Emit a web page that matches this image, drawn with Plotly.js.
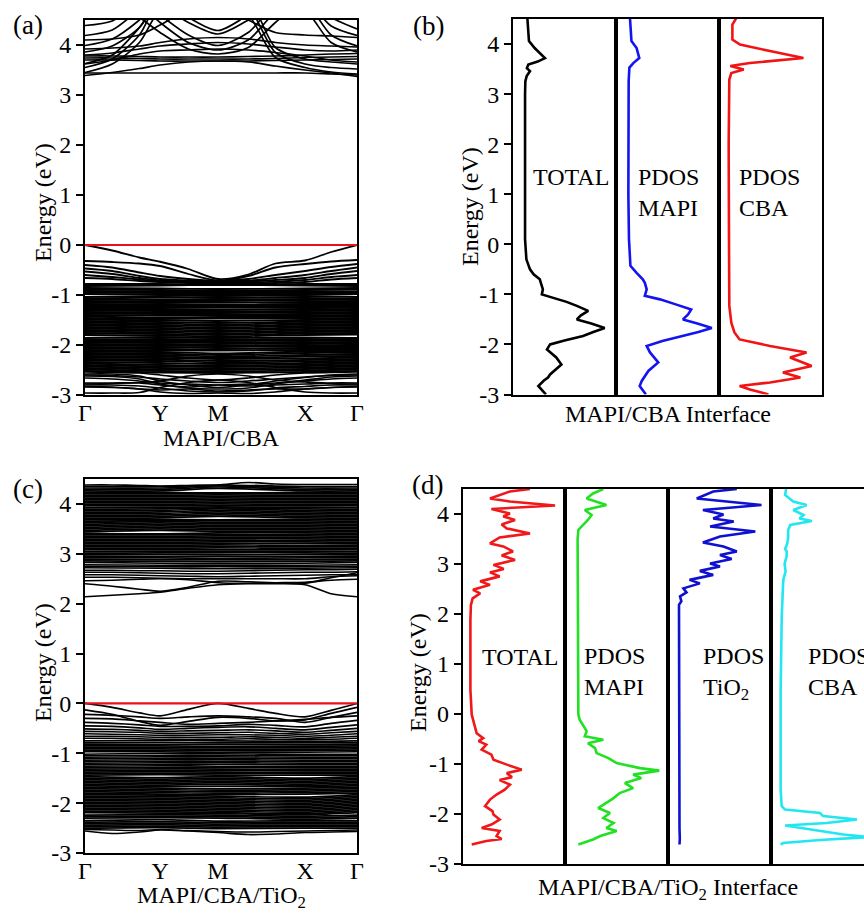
<!DOCTYPE html>
<html>
<head>
<meta charset="utf-8">
<script src="https://cdn.plot.ly/plotly-3.0.1.min.js"></script>
<style>
html,body{margin:0;padding:0;overflow:hidden;background:#fff;}
#chart{width:880px;height:913px;}
</style>
</head>
<body>
<div id="chart"></div>
<script>
// ---------- k-path ----------
const kLabels = ['Γ','Y','M','X','Γ'];
const kSym = [0, 0.276, 0.489, 0.809, 1];
const kFine = [0, 0.1, 0.2, 0.276, 0.38, 0.489, 0.6, 0.7, 0.809, 0.905, 1];
const energyTicks = [-3,-2,-1,0,1,2,3,4];
const energyTickText = ['-3','-2','-1','0','1','2','3','4'];
const fermiLevel = 0;

// ---------- (a) MAPI/CBA bands ----------
const cbA = [
[3.44,3.44,3.44,3.44,3.44,3.44,3.44,3.44,3.44,3.42,3.40],
[3.39,3.45,3.53,3.60,3.66,3.68,3.66,3.58,3.50,3.44,3.37],
[3.45,3.62,4.05,4.70,4.90,4.90,4.60,3.75,3.55,3.46,3.42],
[3.55,3.72,4.20,4.90,4.90,4.90,4.75,3.85,3.62,3.55,3.52],
[3.63,3.80,4.35,4.90,4.90,4.90,4.90,3.95,3.72,3.66,3.62],
[4.90,4.90,4.90,4.90,4.55,4.29,4.60,4.90,4.90,4.90,4.90],
[4.90,4.90,4.90,4.80,4.45,4.22,4.50,4.90,4.90,4.90,4.90],
[4.90,4.90,4.90,4.60,4.20,3.99,4.25,4.80,4.90,4.90,4.90],
[4.90,4.90,4.80,4.45,4.05,3.90,4.10,4.65,4.90,4.90,4.90],
[4.90,4.85,4.55,4.25,3.92,3.82,3.95,4.45,4.90,4.90,4.90],
[3.70,3.70,3.69,3.68,3.68,3.68,3.68,3.69,3.70,3.71,3.72],
[3.74,3.74,3.73,3.72,3.72,3.72,3.72,3.73,3.75,3.76,3.77],
[3.78,3.78,3.77,3.76,3.76,3.76,3.77,3.78,3.80,3.82,3.83],
[3.86,3.98,4.35,4.90,4.90,4.90,4.90,4.90,4.70,4.05,3.86],
[3.99,4.12,4.50,4.90,4.90,4.90,4.90,4.90,4.85,4.20,3.98],
[4.19,4.30,4.70,4.90,4.90,4.90,4.90,4.90,4.90,4.38,4.19],
[4.39,4.48,4.85,4.90,4.90,4.90,4.90,4.90,4.90,4.55,4.32],
[4.10,4.12,4.20,4.40,4.70,4.80,4.50,4.25,4.20,4.18,4.15],
[3.62,3.70,3.82,3.88,3.90,3.92,3.90,3.85,3.78,3.70,3.66],
[3.80,3.84,3.92,3.98,4.02,4.05,4.02,3.96,3.90,3.88,3.90],
[3.92,3.94,3.98,4.05,4.12,4.15,4.12,4.05,4.00,3.98,3.96]
];
const vbTopA = [
[0.00,-0.11,-0.25,-0.335,-0.48,-0.68,-0.59,-0.37,-0.31,-0.14,0.00],
[-0.32,-0.34,-0.37,-0.42,-0.58,-0.71,-0.62,-0.45,-0.38,-0.33,-0.30],
[-0.40,-0.45,-0.55,-0.62,-0.68,-0.72,-0.68,-0.60,-0.52,-0.44,-0.38],
[-0.47,-0.52,-0.62,-0.68,-0.71,-0.73,-0.71,-0.66,-0.60,-0.52,-0.45],
[-0.53,-0.58,-0.66,-0.71,-0.72,-0.74,-0.73,-0.70,-0.66,-0.58,-0.52],
[-0.60,-0.64,-0.69,-0.73,-0.74,-0.75,-0.75,-0.73,-0.70,-0.64,-0.60],
[-0.66,-0.68,-0.72,-0.74,-0.76,-0.77,-0.77,-0.76,-0.74,-0.69,-0.66]
];
const vbDenseA = [
[-0.78,-0.78,-0.79,-0.78,-0.78],[-0.82,-0.81,-0.80,-0.81,-0.82],[-0.86,-0.87,-0.88,-0.87,-0.86],
[-0.89,-0.90,-0.91,-0.90,-0.89],[-0.92,-0.93,-0.94,-0.93,-0.93],[-0.95,-0.96,-0.96,-0.96,-0.96],
[-0.98,-0.99,-0.99,-0.99,-0.98],[-1.04,-1.02,-1.02,-1.02,-1.04],[-1.07,-1.05,-1.05,-1.06,-1.07],
[-1.10,-1.09,-1.08,-1.09,-1.10],[-1.13,-1.12,-1.12,-1.12,-1.13],[-1.16,-1.15,-1.15,-1.16,-1.16],
[-1.19,-1.18,-1.19,-1.19,-1.19],[-1.22,-1.22,-1.22,-1.22,-1.22],[-1.25,-1.25,-1.25,-1.26,-1.25],
[-1.28,-1.28,-1.29,-1.29,-1.28],[-1.31,-1.32,-1.32,-1.32,-1.31],[-1.34,-1.35,-1.35,-1.35,-1.34],
[-1.37,-1.38,-1.38,-1.38,-1.37],[-1.40,-1.41,-1.41,-1.41,-1.40],[-1.43,-1.45,-1.44,-1.44,-1.43],
[-1.46,-1.48,-1.47,-1.47,-1.46],[-1.49,-1.51,-1.52,-1.50,-1.49],[-1.52,-1.54,-1.56,-1.53,-1.52],
[-1.55,-1.57,-1.59,-1.56,-1.55],[-1.58,-1.60,-1.62,-1.59,-1.58],[-1.61,-1.63,-1.65,-1.62,-1.61],
[-1.64,-1.66,-1.68,-1.65,-1.64],[-1.67,-1.69,-1.71,-1.68,-1.67],[-1.70,-1.72,-1.74,-1.71,-1.70],
[-1.73,-1.75,-1.77,-1.74,-1.73],[-1.76,-1.78,-1.80,-1.77,-1.76],[-1.80,-1.81,-1.83,-1.80,-1.79],
[-1.86,-1.84,-1.86,-1.85,-1.86],[-1.89,-1.88,-1.89,-1.88,-1.89],[-1.92,-1.92,-1.92,-1.91,-1.92],
[-1.95,-1.96,-1.95,-1.94,-1.95],[-1.98,-1.99,-1.98,-1.97,-1.98],[-2.01,-2.02,-2.01,-2.00,-2.01],
[-2.04,-2.05,-2.04,-2.04,-2.04],[-2.07,-2.08,-2.08,-2.07,-2.07],[-2.10,-2.11,-2.11,-2.10,-2.10],
[-2.13,-2.14,-2.17,-2.13,-2.13],[-2.16,-2.17,-2.20,-2.16,-2.16],[-2.19,-2.20,-2.23,-2.20,-2.19],
[-2.22,-2.23,-2.26,-2.23,-2.22],[-2.25,-2.26,-2.28,-2.27,-2.25],[-2.28,-2.29,-2.32,-2.30,-2.28],
[-2.31,-2.32,-2.35,-2.33,-2.31],[-2.34,-2.36,-2.38,-2.36,-2.34],[-2.37,-2.40,-2.41,-2.39,-2.37],
[-2.40,-2.43,-2.44,-2.42,-2.40],[-2.43,-2.46,-2.47,-2.45,-2.43],[-2.46,-2.49,-2.50,-2.48,-2.46],
[-2.49,-2.52,-2.53,-2.51,-2.49],[-2.52,-2.55,-2.56,-2.54,-2.52]
];
const vbBottomA = [
[-2.54,-2.55,-2.56,-2.60,-2.66,-2.70,-2.66,-2.60,-2.56,-2.55,-2.54],
[-2.58,-2.58,-2.62,-2.72,-2.80,-2.85,-2.80,-2.72,-2.65,-2.60,-2.58],
[-2.62,-2.63,-2.68,-2.78,-2.86,-2.88,-2.86,-2.78,-2.70,-2.64,-2.62],
[-2.78,-2.77,-2.75,-2.72,-2.62,-2.58,-2.62,-2.70,-2.74,-2.77,-2.78],
[-2.76,-2.76,-2.76,-2.80,-2.84,-2.80,-2.82,-2.80,-2.78,-2.76,-2.76],
[-2.80,-2.80,-2.82,-2.86,-2.92,-2.94,-2.92,-2.86,-2.83,-2.80,-2.80],
[-2.96,-2.96,-2.95,-2.85,-2.75,-2.70,-2.75,-2.85,-2.94,-2.96,-2.96],
[-2.83,-2.84,-2.88,-2.90,-2.88,-2.92,-2.90,-2.88,-2.88,-2.85,-2.83],
[-2.84,-2.85,-2.88,-2.94,-2.97,-2.96,-2.97,-2.94,-2.88,-2.85,-2.84],
[-2.60,-2.61,-2.64,-2.68,-2.72,-2.75,-2.72,-2.68,-2.64,-2.61,-2.60],
[-2.66,-2.68,-2.72,-2.76,-2.78,-2.80,-2.78,-2.76,-2.72,-2.68,-2.66]
];

// ---------- (c) MAPI/CBA/TiO2 bands ----------
const cbLowC = [
[2.14,2.17,2.20,2.23,2.31,2.38,2.40,2.40,2.38,2.20,2.14],
[2.40,2.35,2.29,2.25,2.33,2.45,2.44,2.42,2.41,2.52,2.62],
[2.46,2.47,2.49,2.50,2.48,2.42,2.41,2.42,2.43,2.47,2.49],
[2.53,2.53,2.52,2.51,2.50,2.50,2.50,2.50,2.50,2.54,2.56],
[2.58,2.58,2.57,2.56,2.55,2.54,2.55,2.56,2.57,2.58,2.58],
[2.63,2.63,2.62,2.61,2.60,2.60,2.61,2.62,2.63,2.63,2.64],
[2.67,2.67,2.66,2.66,2.65,2.65,2.66,2.67,2.68,2.68,2.69]
];
const cbTopC = [
[4.38,4.38,4.37,4.36,4.37,4.38,4.43,4.40,4.39,4.39,4.39]
];
const cbDenseC = [
[2.72,2.71,2.70,2.71,2.72],[2.75,2.74,2.74,2.74,2.75],[2.78,2.77,2.77,2.77,2.78],
[2.83,2.81,2.80,2.81,2.83],[2.86,2.85,2.84,2.85,2.86],[2.89,2.88,2.88,2.88,2.89],
[2.92,2.92,2.91,2.92,2.92],[2.95,2.95,2.95,2.95,2.95],[2.98,2.99,2.98,2.99,2.98],
[3.01,3.02,3.02,3.02,3.01],[3.04,3.05,3.05,3.05,3.04],[3.08,3.08,3.08,3.08,3.08],
[3.11,3.11,3.12,3.11,3.11],[3.14,3.14,3.15,3.14,3.14],[3.17,3.17,3.18,3.17,3.17],
[3.20,3.20,3.21,3.21,3.20],[3.23,3.23,3.24,3.24,3.23],[3.26,3.26,3.27,3.27,3.26],
[3.29,3.29,3.30,3.30,3.29],[3.32,3.32,3.33,3.33,3.32],[3.35,3.35,3.36,3.36,3.35],
[3.38,3.38,3.39,3.39,3.38],[3.41,3.40,3.42,3.42,3.41],[3.44,3.47,3.45,3.45,3.44],
[3.47,3.50,3.48,3.48,3.47],[3.50,3.53,3.51,3.51,3.50],[3.53,3.56,3.54,3.54,3.53],
[3.56,3.59,3.57,3.57,3.56],[3.59,3.62,3.60,3.60,3.59],[3.62,3.65,3.63,3.63,3.62],
[3.65,3.67,3.66,3.66,3.65],[3.68,3.69,3.68,3.69,3.68],[3.71,3.72,3.75,3.72,3.71],
[3.74,3.75,3.78,3.75,3.74],[3.77,3.78,3.81,3.78,3.77],[3.80,3.81,3.84,3.81,3.80],
[3.83,3.84,3.87,3.84,3.83],[3.86,3.87,3.90,3.87,3.86],[3.89,3.90,3.92,3.90,3.89],
[3.92,3.93,3.94,3.93,3.92],[3.96,3.96,3.97,3.96,3.96],[3.99,3.99,4.00,3.99,3.99],
[4.02,4.02,4.03,4.02,4.02],[4.05,4.05,4.06,4.05,4.05],[4.08,4.08,4.09,4.08,4.08],
[4.11,4.11,4.12,4.11,4.11],[4.14,4.14,4.15,4.14,4.14],[4.17,4.17,4.18,4.17,4.17],
[4.20,4.20,4.21,4.20,4.20],[4.23,4.23,4.22,4.23,4.23],[4.26,4.26,4.31,4.26,4.26],
[4.29,4.29,4.34,4.29,4.29],[4.32,4.32,4.36,4.32,4.32],[4.35,4.35,4.38,4.35,4.35]
];
const vbTopC = [
[0.00,-0.08,-0.19,-0.25,-0.12,0.00,-0.10,-0.20,-0.27,-0.14,0.00],
[-0.13,-0.22,-0.36,-0.44,-0.36,-0.28,-0.30,-0.35,-0.33,-0.20,-0.08],
[-0.22,-0.24,-0.27,-0.30,-0.27,-0.25,-0.27,-0.30,-0.38,-0.28,-0.18],
[-0.30,-0.31,-0.35,-0.38,-0.42,-0.40,-0.38,-0.35,-0.32,-0.28,-0.25],
[-0.38,-0.40,-0.43,-0.46,-0.46,-0.45,-0.42,-0.44,-0.47,-0.40,-0.34],
[-0.45,-0.46,-0.49,-0.52,-0.50,-0.48,-0.47,-0.50,-0.53,-0.48,-0.43],
[-0.51,-0.52,-0.54,-0.56,-0.55,-0.54,-0.53,-0.55,-0.58,-0.54,-0.50],
[-0.56,-0.57,-0.58,-0.60,-0.60,-0.59,-0.58,-0.60,-0.62,-0.59,-0.56],
[-0.61,-0.62,-0.63,-0.64,-0.64,-0.63,-0.63,-0.64,-0.66,-0.64,-0.61],
[-0.66,-0.66,-0.67,-0.68,-0.68,-0.68,-0.67,-0.68,-0.70,-0.68,-0.66],
[-0.70,-0.70,-0.71,-0.72,-0.72,-0.72,-0.71,-0.72,-0.73,-0.72,-0.70]
];
const vbDenseC = [
[-0.75,-0.74,-0.75,-0.76,-0.75],[-0.79,-0.78,-0.79,-0.79,-0.79],[-0.82,-0.82,-0.82,-0.83,-0.82],
[-0.85,-0.85,-0.86,-0.86,-0.85],[-0.88,-0.88,-0.89,-0.89,-0.88],[-0.91,-0.91,-0.92,-0.92,-0.91],
[-0.94,-0.94,-0.95,-0.95,-0.94],[-0.97,-0.97,-0.98,-0.98,-0.97],[-1.02,-1.00,-1.01,-1.02,-1.02],
[-1.05,-1.04,-1.04,-1.05,-1.05],[-1.08,-1.07,-1.07,-1.08,-1.08],[-1.11,-1.10,-1.10,-1.11,-1.11],
[-1.14,-1.13,-1.13,-1.14,-1.14],[-1.17,-1.16,-1.16,-1.17,-1.17],[-1.20,-1.19,-1.19,-1.20,-1.20],
[-1.23,-1.22,-1.22,-1.23,-1.23],[-1.26,-1.25,-1.26,-1.26,-1.26],[-1.29,-1.28,-1.29,-1.29,-1.29],
[-1.32,-1.31,-1.32,-1.32,-1.32],[-1.35,-1.34,-1.35,-1.35,-1.35],[-1.38,-1.37,-1.38,-1.38,-1.38],
[-1.41,-1.40,-1.41,-1.41,-1.41],[-1.44,-1.43,-1.44,-1.44,-1.44],[-1.47,-1.49,-1.47,-1.50,-1.47],
[-1.50,-1.52,-1.50,-1.53,-1.50],[-1.53,-1.55,-1.53,-1.56,-1.53],[-1.56,-1.58,-1.56,-1.59,-1.56],
[-1.59,-1.61,-1.59,-1.62,-1.59],[-1.62,-1.64,-1.62,-1.65,-1.62],[-1.65,-1.67,-1.66,-1.67,-1.65],
[-1.68,-1.70,-1.71,-1.70,-1.68],[-1.71,-1.73,-1.74,-1.73,-1.71],[-1.74,-1.76,-1.77,-1.76,-1.74],
[-1.77,-1.79,-1.80,-1.79,-1.77],[-1.80,-1.82,-1.83,-1.82,-1.80],[-1.83,-1.84,-1.86,-1.88,-1.83],
[-1.86,-1.87,-1.89,-1.91,-1.86],[-1.89,-1.90,-1.92,-1.94,-1.89],[-1.92,-1.93,-1.95,-1.97,-1.92],
[-1.95,-1.96,-1.98,-2.00,-1.95],[-1.98,-1.99,-2.01,-2.03,-1.98],[-2.01,-2.02,-2.04,-2.06,-2.01],
[-2.04,-2.05,-2.07,-2.09,-2.04],[-2.07,-2.08,-2.10,-2.12,-2.07],[-2.10,-2.11,-2.13,-2.15,-2.10],
[-2.13,-2.14,-2.16,-2.18,-2.13],[-2.16,-2.17,-2.19,-2.21,-2.16],[-2.19,-2.20,-2.21,-2.23,-2.19],
[-2.24,-2.23,-2.24,-2.26,-2.24],[-2.27,-2.26,-2.27,-2.29,-2.27],[-2.30,-2.29,-2.30,-2.32,-2.30],
[-2.35,-2.33,-2.36,-2.35,-2.35],[-2.38,-2.37,-2.39,-2.38,-2.38],[-2.41,-2.40,-2.42,-2.41,-2.41],
[-2.44,-2.43,-2.45,-2.44,-2.44],[-2.47,-2.46,-2.48,-2.47,-2.47],[-2.50,-2.49,-2.51,-2.50,-2.50]
];
const vbBottomC = [
[-2.56,-2.61,-2.58,-2.54,-2.56,-2.59,-2.63,-2.62,-2.59,-2.58,-2.57],
[-2.53,-2.54,-2.55,-2.53,-2.55,-2.57,-2.58,-2.57,-2.56,-2.55,-2.54]
];

// ---------- (b) PDOS, MAPI/CBA interface ----------
const eTotalB = [4.5,4.06,3.92,3.8,3.72,3.65,3.59,3.52,3.46,3.36,3.26,3.0,2.0,1.0,0.1,-0.3,-0.5,-0.6,-0.7,-0.8,-0.9,-1.0,-1.07,-1.15,-1.23,-1.33,-1.42,-1.5,-1.58,-1.67,-1.75,-1.83,-1.92,-2.0,-2.1,-2.18,-2.26,-2.4,-2.47,-2.53,-2.6,-2.66,-2.72,-2.83,-2.9,-2.97,-3.0];
const dosTotalB = [14,15.5,21,27,31,24,14.9,13.5,16.5,13.3,12,11.7,11.5,11.3,11.7,13,16.5,20,26,27.5,29,28,39,52,62,73,66,62,76,89,78,68,50,36,33,37,42,47,43,39,36,34,30,24.6,28,31,32];
const eMapiB = [4.51,4.06,3.92,3.78,3.72,3.62,3.53,3.26,2.0,1.0,0.1,-0.23,-0.43,-0.57,-0.7,-0.77,-0.9,-1.03,-1.1,-1.2,-1.3,-1.4,-1.5,-1.58,-1.67,-1.75,-1.83,-1.93,-2.03,-2.16,-2.36,-2.45,-2.53,-2.73,-2.83,-2.97,-3.0];
const dosMapiB = [13.6,15,20,22,22.6,16.8,13,12.3,12,12,12.6,13.6,14,20,26,28,29.8,28,42.7,58,73,70,65,79,93,80,65,45,29.8,33,41,36,31.4,25,23,28,29];
const eCbaB = [4.51,4.39,4.09,3.99,3.86,3.72,3.62,3.56,3.49,3.42,3.29,2.0,0.1,-1.23,-1.57,-1.76,-1.9,-2.03,-2.16,-2.26,-2.43,-2.56,-2.66,-2.76,-2.83,-2.9,-2.97,-3.0];
const dosCbaB = [16.5,13,13,20.4,49.5,82,30,11,24,12,10,9.4,9.7,10,12,15,20,49.5,85,69,90,62,79,49.5,20,30,43,48];

// ---------- (d) PDOS, MAPI/CBA/TiO2 interface ----------
const eTotalD = [4.5,4.45,4.31,4.25,4.17,4.1,4.01,3.95,3.88,3.79,3.71,3.61,3.53,3.41,3.35,3.25,3.17,3.08,2.98,2.9,2.83,2.75,2.65,2.58,2.48,2.41,2.31,2.18,1.88,1.0,0.48,-0.02,-0.12,-0.25,-0.39,-0.49,-0.55,-0.62,-0.72,-0.82,-0.92,-1.02,-1.12,-1.19,-1.27,-1.33,-1.42,-1.52,-1.62,-1.72,-1.85,-1.95,-2.02,-2.12,-2.22,-2.29,-2.35,-2.45,-2.51,-2.55,-2.62];
const dosTotalD = [65.6,46,26.6,46,90,28,46,39.6,51,38,43,65.6,36,26.6,39.6,49,38,51,30,40,26.6,36,17,26.6,10,17,9.7,8,7.5,7.2,7.5,8.8,10,12,13.6,20,15.5,23,18.5,28,30,43,57.5,43,48,36,46,41,33,26.6,21.8,29,30,36,28,18.5,36,33,38,23,8.8];
const eMapiD = [4.5,4.41,4.31,4.18,4.08,3.98,3.88,3.78,3.68,3.5,1.0,-0.02,-0.12,-0.25,-0.35,-0.45,-0.52,-0.59,-0.69,-0.79,-0.89,-0.99,-1.09,-1.14,-1.22,-1.29,-1.39,-1.49,-1.59,-1.69,-1.79,-1.89,-1.99,-2.09,-2.19,-2.29,-2.35,-2.45,-2.52,-2.62];
const dosMapiD = [37,27,20.8,40,19,25.6,22,17.5,12.7,12,12,12.7,14,17.5,20.8,19,37,22,29,30.5,42,50,72.7,91.5,66,74,58,66,53,47,40,32,43.5,37,47,40,50,34,27,12.7];
const eTiO2D = [4.5,4.45,4.31,4.18,4.08,3.99,3.91,3.85,3.75,3.65,3.55,3.43,3.35,3.25,3.18,3.1,3.01,2.95,2.86,2.78,2.68,2.61,2.51,2.43,2.35,2.25,2.18,1.0,-1.0,-2.0,-2.3,-2.5,-2.62];
const dosTiO2D = [67,44,28,91,34,54,44,64,41,85,50.6,34,54,67,50.6,62,41,50.6,31,44,21,31,15,18,11.7,13,10.7,10.7,10.7,10.9,11.2,11.5,11.2];
const eCbaD = [4.5,4.38,4.25,4.18,4.08,3.98,3.91,3.86,3.78,3.68,3.51,3.4,3.3,3.25,3.15,3.0,2.85,2.7,2.58,1.91,0.48,-1.52,-1.85,-1.92,-1.99,-2.05,-2.12,-2.19,-2.24,-2.32,-2.42,-2.47,-2.53,-2.59,-2.62];
const dosCbaD = [15,14,22,35,22,32,28,40,19,17,17,16,14,15.6,15.5,13.5,14.5,12.5,12,10.7,9.7,9.7,10.7,14,48,51,84,54.5,14,38,70.8,96,48,12,9.7];

// ---------- helpers ----------
function bandTrace(kx, bands, xa, ya, width){
  const x=[], y=[];
  bands.forEach(b=>{ b.forEach((e,i)=>{x.push(kx[i]); y.push(e);}); x.push(null); y.push(null); });
  return {type:'scatter', mode:'lines', x:x, y:y, xaxis:xa, yaxis:ya,
    line:{color:'#000', width:width, shape:'spline', smoothing:0.8},
    connectgaps:false, hoverinfo:'skip', showlegend:false};
}
function dosTrace(e, d, xa, ya, color){
  return {type:'scatter', mode:'lines', x:d, y:e, xaxis:xa, yaxis:ya,
    line:{color:color, width:2.6}, hoverinfo:'skip', showlegend:false};
}
function fermiTrace(xa, ya){
  return {type:'scatter', mode:'lines', x:[kSym[0], kSym[4]], y:[fermiLevel, fermiLevel],
    xaxis:xa, yaxis:ya, line:{color:'#e8101a', width:2.2}, hoverinfo:'skip', showlegend:false};
}

const traces = [
  bandTrace(kFine, cbA, 'x', 'y', 1.7),
  bandTrace(kFine, vbTopA, 'x', 'y', 1.8),
  bandTrace(kSym, vbDenseA, 'x', 'y', 1.8),
  bandTrace(kFine, vbBottomA, 'x', 'y', 1.7),
  fermiTrace('x', 'y'),
  dosTrace(eTotalB, dosTotalB, 'x2', 'y2', '#000000'),
  dosTrace(eMapiB, dosMapiB, 'x3', 'y3', '#1414f0'),
  dosTrace(eCbaB, dosCbaB, 'x4', 'y4', '#f01414'),
  bandTrace(kFine, cbLowC, 'x5', 'y5', 1.6),
  bandTrace(kSym, cbDenseC, 'x5', 'y5', 1.7),
  bandTrace(kFine, cbTopC, 'x5', 'y5', 1.7),
  bandTrace(kFine, vbTopC, 'x5', 'y5', 1.6),
  bandTrace(kSym, vbDenseC, 'x5', 'y5', 1.7),
  bandTrace(kFine, vbBottomC, 'x5', 'y5', 1.6),
  fermiTrace('x5', 'y5'),
  dosTrace(eTotalD, dosTotalD, 'x6', 'y6', '#f01818'),
  dosTrace(eMapiD, dosMapiD, 'x7', 'y7', '#22e022'),
  dosTrace(eTiO2D, dosTiO2D, 'x8', 'y8', '#1010d0'),
  dosTrace(eCbaD, dosCbaD, 'x9', 'y9', '#22e6f0')
];

// ---------- layout ----------
const W = 880, H = 913;
const px = v => v / W;
const py = v => 1 - v / H;
const FONT = '"Liberation Serif", "Times New Roman", Times, serif';

const frame = {showline:true, mirror:true, linecolor:'#000', linewidth:2, showgrid:false, zeroline:false, fixedrange:true};
function energyAxis(dom, anchor, withLabels){
  const a = Object.assign({}, frame, {domain:dom, anchor:anchor, range:[-3,4.5]});
  if(withLabels){
    Object.assign(a, {tickmode:'array', tickvals:energyTicks, ticktext:energyTickText,
      ticks:'outside', ticklen:7, tickwidth:2, tickcolor:'#000',
      tickfont:{family:FONT, size:24, color:'#000'}});
  } else {
    Object.assign(a, {showticklabels:false, ticks:''});
  }
  return a;
}
function kAxis(dom, anchor){
  return Object.assign({}, frame, {domain:dom, anchor:anchor, range:[0,1], tickmode:'array',
    tickvals:kSym, ticktext:kLabels, ticks:'', ticklabelstandoff:-5,
    tickfont:{family:FONT, size:24, color:'#000'}});
}
function dosAxis(dom, anchor){
  return Object.assign({}, frame, {domain:dom, anchor:anchor, range:[0,100], showticklabels:false, ticks:''});
}

const yAB = [py(395), py(20)];
const yB = [py(394.5), py(19)];
const yC = [py(853), py(479)];
const yD = [py(863.5), py(489)];

const layout = {
  width:W, height:H, margin:{l:0,r:0,t:0,b:0}, paper_bgcolor:'#fff', plot_bgcolor:'#fff',
  showlegend:false, font:{family:FONT, size:24, color:'#000'},
  xaxis: kAxis([px(85), px(357)], 'y'),
  yaxis: energyAxis(yAB, 'x', true),
  xaxis2: dosAxis([px(513), px(616)], 'y2'),
  yaxis2: energyAxis(yB, 'x2', true),
  xaxis3: dosAxis([px(616), px(719)], 'y3'),
  yaxis3: energyAxis(yB, 'x3', false),
  xaxis4: dosAxis([px(719), px(822)], 'y4'),
  yaxis4: energyAxis(yB, 'x4', false),
  xaxis5: kAxis([px(85), px(357)], 'y5'),
  yaxis5: energyAxis(yC, 'x5', true),
  xaxis6: dosAxis([px(462.7), px(565.3)], 'y6'),
  yaxis6: energyAxis(yD, 'x6', true),
  xaxis7: dosAxis([px(565.3), px(668)], 'y7'),
  yaxis7: energyAxis(yD, 'x7', false),
  xaxis8: dosAxis([px(668), px(770.7)], 'y8'),
  yaxis8: energyAxis(yD, 'x8', false),
  xaxis9: dosAxis([px(770.7), px(873.4)], 'y9'),
  yaxis9: energyAxis(yD, 'x9', false),
  annotations: [
    {text:'(a)', x:px(28), y:py(25), font:{size:27}},
    {text:'(b)', x:px(428), y:py(26), font:{size:27}},
    {text:'(c)', x:px(28), y:py(489), font:{size:27}},
    {text:'(d)', x:px(427), y:py(485), font:{size:27}},
    {text:'Energy (eV)', x:px(43), y:py(203), textangle:-90},
    {text:'Energy (eV)', x:px(470), y:py(207), textangle:-90},
    {text:'Energy (eV)', x:px(43), y:py(663), textangle:-90},
    {text:'Energy (eV)', x:px(418), y:py(673), textangle:-90},
    {text:'MAPI/CBA', x:px(221), y:py(438)},
    {text:'MAPI/CBA Interface', x:px(667.5), y:py(414)},
    {text:'MAPI/CBA/TiO<sub>2</sub>', x:px(221), y:py(897)},
    {text:'MAPI/CBA/TiO<sub>2</sub> Interface', x:px(668), y:py(889)},
    {text:'TOTAL', x:px(571), y:py(177)},
    {text:'PDOS<br>MAPI', x:px(636), y:py(192.5), xanchor:'left', align:'left'},
    {text:'PDOS<br>CBA', x:px(737), y:py(192.5), xanchor:'left', align:'left'},
    {text:'TOTAL', x:px(520), y:py(657)},
    {text:'PDOS<br>MAPI', x:px(582), y:py(671), xanchor:'left', align:'left'},
    {text:'PDOS<br>TiO<sub>2</sub>', x:px(701), y:py(673), xanchor:'left', align:'left'},
    {text:'PDOS<br>CBA', x:px(806), y:py(671), xanchor:'left', align:'left'}
  ].map(a => Object.assign({xref:'paper', yref:'paper', showarrow:false, xanchor:'center', yanchor:'middle'}, a))
};
layout.annotations.forEach(a => { a.font = Object.assign({family:FONT, color:'#000', size:24}, a.font || {}); });

Plotly.newPlot('chart', traces, layout, {staticPlot:true, displayModeBar:false});
</script>
</body>
</html>
